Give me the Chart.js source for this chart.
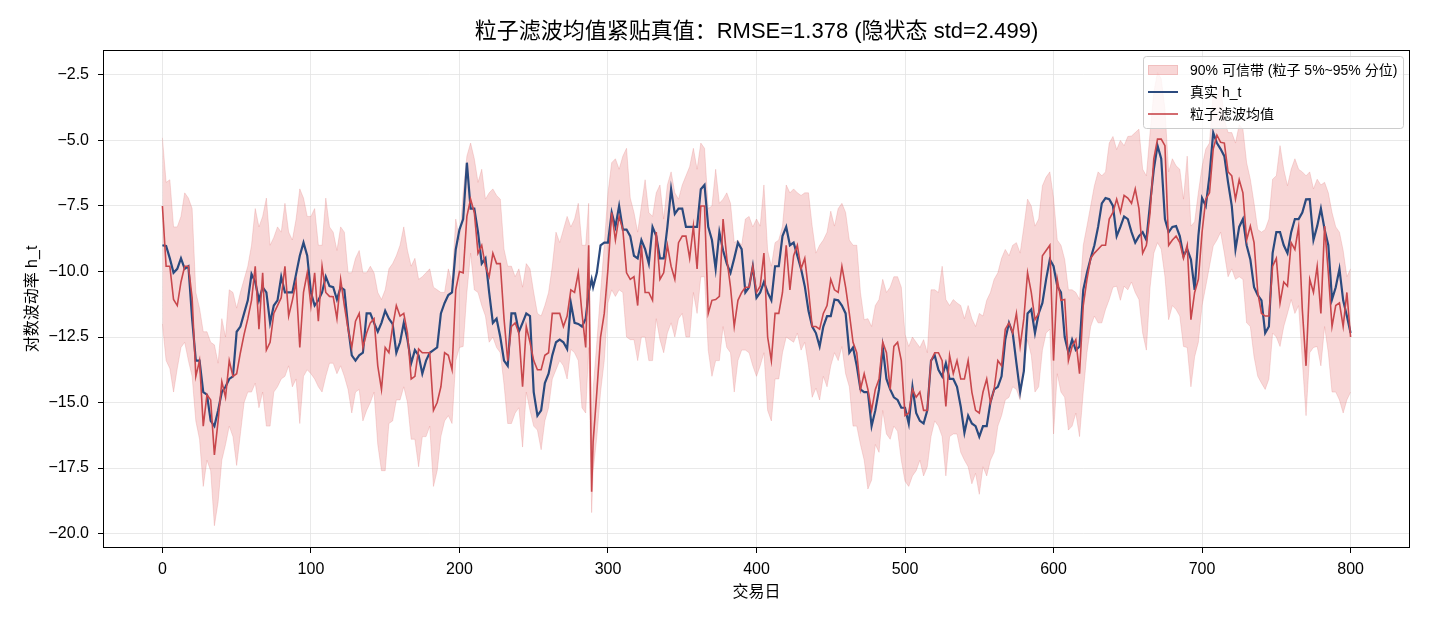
<!DOCTYPE html>
<html>
<head>
<meta charset="utf-8">
<script src="https://cdn.jsdelivr.net/npm/chart.js@4.4.1/dist/chart.umd.min.js"></script>
<style>
  html, body { margin: 0; padding: 0; background: #fff; }
  canvas { display: block; }
</style>
</head>
<body>
<canvas id="myChart" width="1430" height="624"></canvas>
<script>
// trading days (extra points around the spike near day 289)
const days = [
  0, 2.5, 5, 7.5, 10, 12.5, 15, 17.5, 20, 22.5, 25, 27.5, 30, 32.5, 35, 37.5, 40, 42.5, 45, 47.5,
  50, 52.5, 55, 57.5, 60, 62.5, 65, 67.5, 70, 72.5, 75, 77.5, 80, 82.5, 85, 87.5, 90, 92.5, 95, 97.5,
  100, 102.5, 105, 107.5, 110, 112.5, 115, 117.5, 120, 122.5, 125, 127.5, 130, 132.5, 135, 137.5, 140, 142.5, 145, 147.5,
  150, 152.5, 155, 157.5, 160, 162.5, 165, 167.5, 170, 172.5, 175, 177.5, 180, 182.5, 185, 187.5, 190, 192.5, 195, 197.5,
  200, 202.5, 205, 207.5, 210, 212.5, 215, 217.5, 220, 222.5, 225, 227.5, 230, 232.5, 235, 237.5, 240, 242.5, 245, 247.5,
  250, 252.5, 255, 257.5, 260, 262.5, 265, 267.5, 270, 272.5, 275, 277.5, 280, 282.5, 285, 287, 289, 290, 292.5, 295, 297.5,
  300, 302.5, 305, 307.5, 310, 312.5, 315, 317.5, 320, 322.5, 325, 327.5, 330, 332.5, 335, 337.5, 340, 342.5, 345, 347.5,
  350, 352.5, 355, 357.5, 360, 362.5, 365, 367.5, 370, 372.5, 375, 377.5, 380, 382.5, 385, 387.5, 390, 392.5, 395, 397.5,
  400, 402.5, 405, 407.5, 410, 412.5, 415, 417.5, 420, 422.5, 425, 427.5, 430, 432.5, 435, 437.5, 440, 442.5, 445, 447.5,
  450, 452.5, 455, 457.5, 460, 462.5, 465, 467.5, 470, 472.5, 475, 477.5, 480, 482.5, 485, 487.5, 490, 492.5, 495, 497.5,
  500, 502.5, 505, 507.5, 510, 512.5, 515, 517.5, 520, 522.5, 525, 527.5, 530, 532.5, 535, 537.5, 540, 542.5, 545, 547.5,
  550, 552.5, 555, 557.5, 560, 562.5, 565, 567.5, 570, 572.5, 575, 577.5, 580, 582.5, 585, 587.5, 590, 592.5, 595, 597.5,
  600, 602.5, 605, 607.5, 610, 612.5, 615, 617.5, 620, 622.5, 625, 627.5, 630, 632.5, 635, 637.5, 640, 642.5, 645, 647.5,
  650, 652.5, 655, 657.5, 660, 662.5, 665, 667.5, 670, 672.5, 675, 677.5, 680, 682.5, 685, 687.5, 690, 692.5, 695, 697.5,
  700, 702.5, 705, 707.5, 710, 712.5, 715, 717.5, 720, 722.5, 725, 727.5, 730, 732.5, 735, 737.5, 740, 742.5, 745, 747.5,
  750, 752.5, 755, 757.5, 760, 762.5, 765, 767.5, 770, 772.5, 775, 777.5, 780, 782.5, 785, 787.5, 790, 792.5, 795, 797.5, 800
];

// true hidden state h_t
const trueH = [
  -9.0, -9.03, -9.5, -10.05, -9.9, -9.5, -9.9, -9.8, -11.8, -13.4, -13.4, -14.6, -14.7, -15.7, -15.9, -15.3, -14.6, -14.4, -14.1, -14.0,
  -12.3, -12.1, -11.6, -11.1, -10.1, -10.4, -11.1, -10.6, -10.8, -11.96, -11.3, -11.1, -10.2, -10.8, -10.8, -10.8, -10.1, -9.4, -8.9, -9.4,
  -10.8, -11.3, -11.1, -10.8, -10.2, -10.56, -10.6, -11.07, -10.6, -10.7, -12.1, -13.2, -13.4, -13.2, -13.1, -11.6, -11.6, -11.96, -12.3, -11.96,
  -11.5, -11.8, -12.0, -13.1, -12.7, -11.96, -12.6, -13.5, -13.0, -13.2, -13.9, -13.4, -13.1, -13.0, -12.9, -11.6, -11.2, -10.9, -10.8, -9.16,
  -8.4, -8.0, -5.85, -7.6, -7.6, -8.5, -9.7, -9.5, -10.8, -11.96, -11.8, -12.5, -13.4, -13.6, -11.6, -11.6, -12.3, -11.96, -11.6, -11.7,
  -14.6, -15.5, -15.3, -14.26, -13.9, -13.2, -12.7, -12.6, -12.7, -12.96, -11.2, -11.96, -12.0, -12.1, -11.8, -10.8, -10.3, -10.6, -10.05, -9.0, -8.9,
  -8.9, -7.75, -8.3, -7.5, -8.4, -8.4, -8.65, -9.4, -9.5, -8.8, -9.15, -9.7, -8.3, -8.65, -9.5, -9.5, -8.3, -6.86, -7.8, -7.6,
  -7.6, -8.3, -8.3, -8.3, -8.3, -6.86, -6.7, -8.3, -8.8, -9.9, -8.5, -9.2, -9.7, -10.05, -9.5, -8.9, -9.15, -10.8, -10.6, -9.8,
  -11.0, -10.8, -10.4, -10.8, -11.1, -9.8, -9.8, -8.65, -8.3, -9.0, -8.9, -9.4, -9.9, -10.56, -11.5, -12.1, -12.35, -12.86, -12.1, -11.7,
  -11.7, -11.07, -11.1, -11.3, -11.6, -13.1, -12.9, -13.6, -14.5, -14.6, -14.6, -15.9, -15.3, -14.5, -12.9, -14.1, -14.5, -14.8, -14.9, -15.2,
  -15.2, -15.8, -14.4, -15.4, -15.7, -15.8, -15.3, -13.4, -13.2, -13.75, -14.0, -13.5, -14.1, -14.1, -14.4, -15.15, -16.15, -15.5, -15.8, -15.9,
  -16.3, -15.9, -15.9, -15.0, -14.5, -14.4, -14.0, -12.6, -11.96, -12.35, -13.5, -14.6, -13.8, -11.6, -11.45, -12.35, -11.6, -11.2, -10.3, -9.54,
  -9.8, -10.56, -10.8, -12.5, -13.1, -12.6, -13.0, -12.86, -10.7, -10.05, -9.5, -9.0, -8.3, -7.4, -7.2, -7.24, -7.5, -8.65, -8.3, -7.9,
  -8.0, -8.5, -8.9, -8.65, -8.5, -8.8, -7.4, -6.1, -5.2, -5.7, -8.0, -8.5, -8.3, -8.27, -8.65, -9.4, -9.15, -9.54, -10.7, -8.65,
  -7.2, -7.5, -6.35, -4.7, -5.1, -5.33, -5.6, -6.6, -7.5, -9.16, -8.3, -8.0, -9.0, -9.54, -10.6, -10.9, -11.1, -12.35, -12.1, -9.3,
  -8.5, -8.5, -9.0, -9.3, -8.5, -8.0, -8.0, -7.75, -7.25, -7.24, -8.8, -8.27, -7.6, -8.4, -9.0, -11.07, -10.6, -9.9, -11.1, -11.7, -12.35
];

// particle filter mean
const pfMean = [
  -7.5, -9.8, -9.8, -11.07, -11.3, -10.4, -9.8, -9.8, -11.0, -14.0, -13.4, -15.9, -14.7, -14.9, -17.0, -15.7, -14.2, -14.8, -13.4, -14.0,
  -13.9, -13.1, -12.4, -11.8, -11.1, -9.8, -12.2, -10.05, -13.0, -12.7, -11.6, -11.3, -11.0, -9.8, -11.7, -11.1, -10.4, -12.9, -10.8, -10.05,
  -11.3, -10.05, -11.9, -9.8, -10.8, -10.95, -10.96, -11.8, -10.3, -11.3, -12.2, -12.9, -11.9, -11.6, -12.9, -12.35, -11.96, -11.8, -13.6, -14.5,
  -12.9, -13.1, -12.1, -11.3, -11.7, -11.6, -12.35, -14.1, -14.0, -12.96, -13.1, -13.1, -13.1, -15.3, -15.0, -14.4, -13.1, -13.2, -13.75, -10.7,
  -10.0, -10.05, -7.9, -7.24, -7.75, -9.3, -9.0, -9.8, -10.2, -9.3, -9.7, -9.7, -11.8, -13.4, -12.1, -11.96, -12.35, -14.4, -12.1, -12.7,
  -13.4, -13.75, -13.75, -13.2, -13.1, -11.6, -11.6, -11.6, -12.1, -11.7, -10.7, -10.8, -10.05, -11.6, -12.9, -9.0, -18.4, -16.5, -14.6, -12.5, -11.6,
  -9.9, -7.75, -8.8, -7.9, -8.4, -10.05, -10.3, -10.2, -11.3, -9.0, -10.8, -10.8, -11.1, -8.5, -10.3, -10.05, -9.0, -9.8, -10.3, -8.9,
  -8.65, -8.65, -9.5, -8.27, -9.9, -7.5, -7.5, -11.6, -11.1, -11.07, -10.95, -8.0, -9.5, -10.6, -12.1, -11.1, -10.8, -10.6, -10.6, -9.8,
  -10.8, -10.56, -9.3, -12.5, -13.4, -11.6, -11.6, -10.8, -9.0, -10.7, -9.4, -9.0, -9.9, -9.5, -10.7, -12.1, -12.1, -12.2, -11.6, -11.3,
  -10.3, -10.7, -10.8, -9.8, -10.6, -11.6, -12.7, -13.1, -14.5, -13.9, -14.5, -15.3, -14.5, -14.1, -12.7, -13.1, -14.5, -12.86, -12.7, -13.4,
  -15.5, -15.4, -14.5, -14.8, -14.6, -15.3, -15.3, -13.4, -13.1, -13.1, -13.4, -15.15, -13.2, -13.9, -13.4, -14.1, -14.1, -13.4, -14.6, -15.3,
  -15.4, -14.6, -14.1, -15.0, -14.5, -13.4, -13.6, -12.2, -11.96, -12.35, -11.6, -12.86, -11.8, -10.05, -10.8, -11.84, -11.6, -9.4, -9.2, -9.0,
  -13.4, -10.3, -11.1, -11.07, -13.4, -12.86, -12.6, -13.9, -11.3, -10.3, -9.5, -9.3, -9.15, -9.0, -9.0, -8.0, -7.75, -7.24, -7.75, -7.1,
  -7.2, -7.4, -6.85, -7.6, -9.3, -9.0, -7.75, -5.7, -4.95, -4.95, -5.2, -9.0, -8.8, -8.65, -8.9, -9.5, -9.0, -11.84, -10.8, -10.3,
  -8.5, -7.24, -7.0, -5.33, -4.8, -5.07, -5.1, -6.2, -6.35, -7.24, -6.5, -7.0, -8.8, -8.27, -8.9, -10.8, -11.6, -11.7, -11.7, -9.8,
  -9.5, -11.2, -10.4, -10.56, -8.9, -9.16, -8.3, -11.45, -13.6, -10.3, -10.8, -9.8, -11.6, -8.27, -10.05, -12.1, -11.3, -11.2, -12.1, -10.8, -12.5
];

// 95% particle quantile
const bandHi = [
  -4.9, -6.6, -6.5, -8.3, -8.3, -7.9, -7.0, -7.2, -7.6, -10.8, -11.4, -12.3, -12.3, -12.7, -12.8, -13.5, -11.8, -12.5, -10.7, -10.8,
  -11.4, -10.8, -10.3, -9.8, -9.0, -7.6, -8.3, -7.9, -7.2, -9.0, -8.7, -8.3, -8.5, -7.4, -8.5, -8.8, -8.0, -6.85, -7.2, -7.9,
  -7.9, -7.6, -9.0, -9.0, -7.2, -8.3, -8.5, -9.2, -8.3, -8.5, -10.05, -10.05, -9.5, -9.2, -10.05, -10.05, -9.8, -10.05, -10.8, -11.07,
  -10.7, -9.9, -9.7, -9.4, -9.0, -8.3, -9.2, -9.8, -9.5, -10.3, -10.2, -10.05, -9.9, -10.6, -10.7, -10.8, -10.8, -9.9, -10.4, -8.0,
  -8.8, -7.0, -5.6, -5.1, -5.7, -6.6, -6.1, -7.24, -7.0, -6.85, -7.1, -7.24, -9.15, -9.8, -9.8, -10.2, -9.9, -10.6, -9.7, -9.9,
  -10.8, -11.6, -11.7, -11.3, -10.8, -9.8, -8.5, -8.9, -8.4, -7.9, -8.3, -8.0, -7.4, -9.0, -9.0, -7.4, -17.0, -14.5, -12.7, -10.8, -9.0,
  -7.0, -5.85, -5.7, -6.1, -5.6, -5.3, -7.2, -7.75, -8.5, -7.5, -6.5, -7.75, -7.9, -7.0, -6.7, -8.0, -6.7, -6.2, -7.0, -7.24,
  -6.7, -6.35, -6.0, -5.3, -6.1, -5.1, -5.3, -7.6, -7.5, -6.1, -7.4, -7.24, -7.0, -7.4, -8.9, -8.8, -9.0, -8.0, -7.9, -8.3,
  -8.0, -8.27, -6.7, -9.2, -9.8, -8.9, -8.8, -8.27, -6.7, -7.0, -6.85, -7.0, -7.1, -7.0, -7.0, -8.27, -9.3, -9.0, -8.8, -8.5,
  -7.7, -8.27, -7.6, -7.4, -7.75, -8.8, -9.0, -9.0, -10.8, -11.84, -11.8, -12.1, -11.3, -11.07, -10.3, -10.8, -10.6, -10.2, -10.2, -10.6,
  -12.4, -12.86, -12.5, -12.7, -12.9, -12.6, -13.1, -10.7, -10.7, -10.8, -9.8, -11.07, -11.3, -11.07, -11.2, -11.3, -11.8, -11.3, -11.8, -12.1,
  -11.6, -11.7, -11.1, -10.8, -10.3, -10.05, -9.5, -9.16, -9.4, -9.0, -8.9, -9.3, -8.3, -7.24, -7.5, -8.27, -8.0, -6.73, -6.4, -6.2,
  -7.2, -8.8, -9.0, -9.54, -10.7, -10.7, -10.8, -11.07, -9.0, -8.27, -7.5, -6.73, -6.2, -6.35, -6.2, -5.1, -4.85, -5.35, -5.0, -5.2,
  -4.85, -4.83, -4.7, -4.57, -6.1, -6.35, -4.7, -3.16, -2.4, -2.65, -3.8, -6.2, -5.7, -5.97, -6.1, -7.24, -5.6, -8.27, -8.1, -6.99,
  -6.0, -5.33, -5.1, -3.16, -3.4, -2.9, -4.2, -4.7, -4.7, -5.1, -4.4, -4.57, -5.85, -6.48, -7.4, -8.4, -8.5, -8.4, -8.0, -6.48,
  -6.35, -5.2, -6.1, -6.73, -6.1, -5.7, -6.1, -6.2, -6.35, -6.2, -6.85, -6.48, -6.7, -6.6, -7.0, -7.75, -8.3, -8.5, -9.2, -10.2, -9.9
];

// 5% particle quantile
const bandLo = [
  -12.0, -13.4, -13.7, -14.6, -13.7, -12.9, -12.7, -13.4, -14.0, -15.7, -16.4, -18.2, -17.2, -17.6, -19.7, -18.8, -17.2, -16.6, -15.9, -16.3,
  -17.4, -16.2, -15.0, -14.6, -14.6, -14.26, -15.2, -14.6, -15.9, -15.9, -14.6, -14.4, -14.1, -14.0, -13.6, -14.4, -14.1, -15.8, -14.0, -13.75,
  -13.9, -14.1, -14.4, -14.6, -14.0, -13.5, -13.5, -13.9, -13.6, -14.0, -14.5, -15.4, -14.6, -14.5, -15.7, -15.3, -15.0, -14.6, -16.6, -17.6,
  -17.6, -15.8, -15.7, -14.9, -14.9, -14.4, -15.0, -16.4, -16.4, -17.45, -16.3, -16.3, -15.9, -18.2, -17.6, -16.3, -15.7, -15.5, -15.8, -13.4,
  -12.9, -12.86, -10.8, -9.3, -10.7, -10.8, -11.3, -11.7, -12.7, -12.5, -12.9, -13.1, -14.3, -15.8, -15.8, -15.4, -15.2, -16.7, -14.6, -15.3,
  -15.9, -16.05, -16.8, -15.7, -15.2, -14.1, -13.75, -13.4, -13.6, -14.1, -12.97, -13.1, -13.4, -15.2, -15.4, -12.9, -19.2, -17.6, -16.3, -14.6, -13.4,
  -11.2, -10.7, -10.95, -10.7, -10.8, -12.5, -12.6, -12.6, -13.4, -12.5, -12.5, -13.4, -13.4, -11.8, -12.6, -13.1, -12.35, -11.96, -12.5, -11.8,
  -11.6, -12.5, -12.5, -10.8, -11.6, -10.2, -10.2, -13.0, -14.0, -13.4, -13.4, -12.1, -12.9, -13.1, -14.6, -13.4, -13.0, -13.0, -13.1, -13.6,
  -14.0, -13.6, -13.1, -15.3, -15.7, -14.1, -14.1, -13.1, -12.5, -12.6, -12.7, -12.35, -13.0, -12.7, -13.6, -14.8, -14.45, -14.9, -14.0, -14.4,
  -13.6, -13.1, -13.4, -12.86, -13.9, -14.4, -15.9, -15.9, -16.6, -17.2, -18.3, -17.96, -16.6, -16.9, -15.3, -16.2, -16.4, -15.9, -16.1, -17.2,
  -18.0, -18.2, -17.8, -17.6, -17.2, -17.8, -17.45, -16.3, -15.7, -15.9, -16.3, -17.8, -16.3, -16.2, -16.2, -16.9, -17.2, -17.45, -18.1, -17.7,
  -18.5, -17.45, -17.8, -17.2, -16.9, -15.9, -15.5, -14.9, -14.8, -14.4, -14.5, -14.9, -13.75, -12.6, -13.2, -14.6, -14.4, -13.0, -12.35, -12.2,
  -16.2, -13.9, -14.6, -14.8, -16.05, -15.9, -15.4, -16.3, -14.6, -13.1, -12.1, -11.7, -11.96, -11.96, -11.45, -11.07, -10.6, -10.56, -11.1, -10.56,
  -10.7, -10.4, -10.8, -11.07, -12.35, -13.0, -10.6, -9.3, -8.9, -9.15, -10.2, -11.84, -11.3, -11.45, -11.7, -12.86, -12.9, -14.4, -13.25, -12.7,
  -11.3, -10.56, -9.8, -9.03, -8.8, -8.5, -9.3, -10.2, -9.9, -10.3, -10.2, -10.3, -11.96, -12.1, -13.25, -14.0, -14.26, -14.5, -14.1, -12.35,
  -12.5, -12.86, -12.1, -11.6, -11.07, -11.6, -11.3, -13.4, -15.5, -13.1, -12.9, -12.86, -13.6, -12.1, -13.1, -14.6, -14.6, -14.9, -15.4, -14.9, -14.6
];

const xTicks = [0, 100, 200, 300, 400, 500, 600, 700, 800];
const yTicks = [-20, -17.5, -15, -12.5, -10, -7.5, -5, -2.5];

const titleText = "粒子滤波均值紧贴真值：RMSE=1.378 (隐状态 std=2.499)";
const xLabel = "交易日";
const yLabel = "对数波动率 h_t";
const legendLabels = ["90% 可信带 (粒子 5%~95% 分位)", "真实 h_t", "粒子滤波均值"];

const FONT = '"Liberation Sans", "Noto Sans CJK SC", sans-serif';
const BLUE = "#2b4a7e";
const RED = "#c8474c";
const BAND = "rgba(232, 130, 130, 0.32)";
const BAND_EDGE = "rgba(225, 120, 120, 0.25)";

function pts(arr) {
  return days.map((d, i) => ({ x: d, y: arr[i] }));
}

// title, axis labels, frame and legend drawn like matplotlib
const decor = {
  id: "decor",
  afterDraw(chart) {
    const ctx = chart.ctx;
    const a = chart.chartArea;
    ctx.save();

    ctx.strokeStyle = "#000";
    ctx.lineWidth = 1;
    ctx.strokeRect(a.left + 0.5, a.top + 0.5, a.right - a.left - 1, a.bottom - a.top - 1);

    ctx.fillStyle = "#000";
    ctx.textAlign = "center";
    ctx.textBaseline = "middle";
    ctx.font = "22px " + FONT;
    ctx.fillText(titleText, (a.left + a.right) / 2, 32);

    ctx.font = "16px " + FONT;
    ctx.fillText(xLabel, (a.left + a.right) / 2, 593);

    ctx.save();
    ctx.translate(33, (a.top + a.bottom) / 2);
    ctx.rotate(-Math.PI / 2);
    ctx.fillText(yLabel, 0, 0);
    ctx.restore();

    // legend box
    const bx = a.right - 267, by = a.top + 6, bw = 260, bh = 72;
    ctx.beginPath();
    ctx.roundRect(bx + 0.5, by + 0.5, bw, bh, 3);
    ctx.fillStyle = "rgba(255,255,255,0.8)";
    ctx.fill();
    ctx.strokeStyle = "#cccccc";
    ctx.lineWidth = 1;
    ctx.stroke();

    const hx = bx + 5, hw = 30, tx = bx + 47;
    const rows = [by + 14, by + 36, by + 58];

    ctx.fillStyle = BAND;
    ctx.fillRect(hx, rows[0] - 5, hw, 10);
    ctx.strokeStyle = BAND_EDGE;
    ctx.strokeRect(hx + 0.5, rows[0] - 4.5, hw - 1, 9);

    ctx.lineCap = "butt";
    ctx.strokeStyle = BLUE;
    ctx.lineWidth = 2;
    ctx.beginPath();
    ctx.moveTo(hx, rows[1]);
    ctx.lineTo(hx + hw, rows[1]);
    ctx.stroke();

    ctx.strokeStyle = RED;
    ctx.lineWidth = 1.6;
    ctx.beginPath();
    ctx.moveTo(hx, rows[2]);
    ctx.lineTo(hx + hw, rows[2]);
    ctx.stroke();

    ctx.fillStyle = "#000";
    ctx.textAlign = "left";
    ctx.font = "14px " + FONT;
    legendLabels.forEach((t, i) => ctx.fillText(t, tx, rows[i] + 1));

    ctx.restore();
  }
};

new Chart(document.getElementById("myChart"), {
  type: "line",
  data: {
    datasets: [
      {
        label: legendLabels[0],
        data: pts(bandHi),
        borderColor: BAND_EDGE,
        borderWidth: 1,
        backgroundColor: BAND,
        fill: "+1",
        pointRadius: 0,
        order: 3
      },
      {
        label: "lo",
        data: pts(bandLo),
        borderColor: BAND_EDGE,
        borderWidth: 1,
        fill: false,
        pointRadius: 0,
        order: 3
      },
      {
        label: legendLabels[1],
        data: pts(trueH),
        borderColor: BLUE,
        borderWidth: 2.2,
        fill: false,
        pointRadius: 0,
        order: 2
      },
      {
        label: legendLabels[2],
        data: pts(pfMean),
        borderColor: RED,
        borderWidth: 1.6,
        fill: false,
        pointRadius: 0,
        order: 1
      }
    ]
  },
  options: {
    responsive: false,
    animation: false,
    devicePixelRatio: 1,
    layout: { padding: { top: 50, right: 20, left: 0, bottom: 0 } },
    plugins: {
      legend: { display: false },
      title: { display: false },
      tooltip: { enabled: false }
    },
    elements: { line: { tension: 0 } },
    scales: {
      x: {
        type: "linear",
        min: -40,
        max: 840,
        afterBuildTicks: s => { s.ticks = xTicks.map(v => ({ value: v })); },
        afterFit: s => { s.height = 76; },
        ticks: {
          color: "#000",
          font: { size: 16, family: FONT },
          padding: 7,
          maxRotation: 0,
          callback: v => String(v)
        },
        grid: { color: "#e3e3e3", lineWidth: 0.8, tickColor: "#000", tickLength: 5, tickWidth: 1 },
        border: { display: false }
      },
      y: {
        min: -20.55,
        max: -1.55,
        afterBuildTicks: s => { s.ticks = yTicks.map(v => ({ value: v })); },
        afterFit: s => { s.width = 103; },
        ticks: {
          color: "#000",
          font: { size: 16, family: FONT },
          padding: 9,
          callback: v => Number(v).toFixed(1).replace("-", "\u2212")
        },
        grid: { color: "#e3e3e3", lineWidth: 0.8, tickColor: "#000", tickLength: 5, tickWidth: 1 },
        border: { display: false }
      }
    }
  },
  plugins: [decor]
});
</script>
</body>
</html>
